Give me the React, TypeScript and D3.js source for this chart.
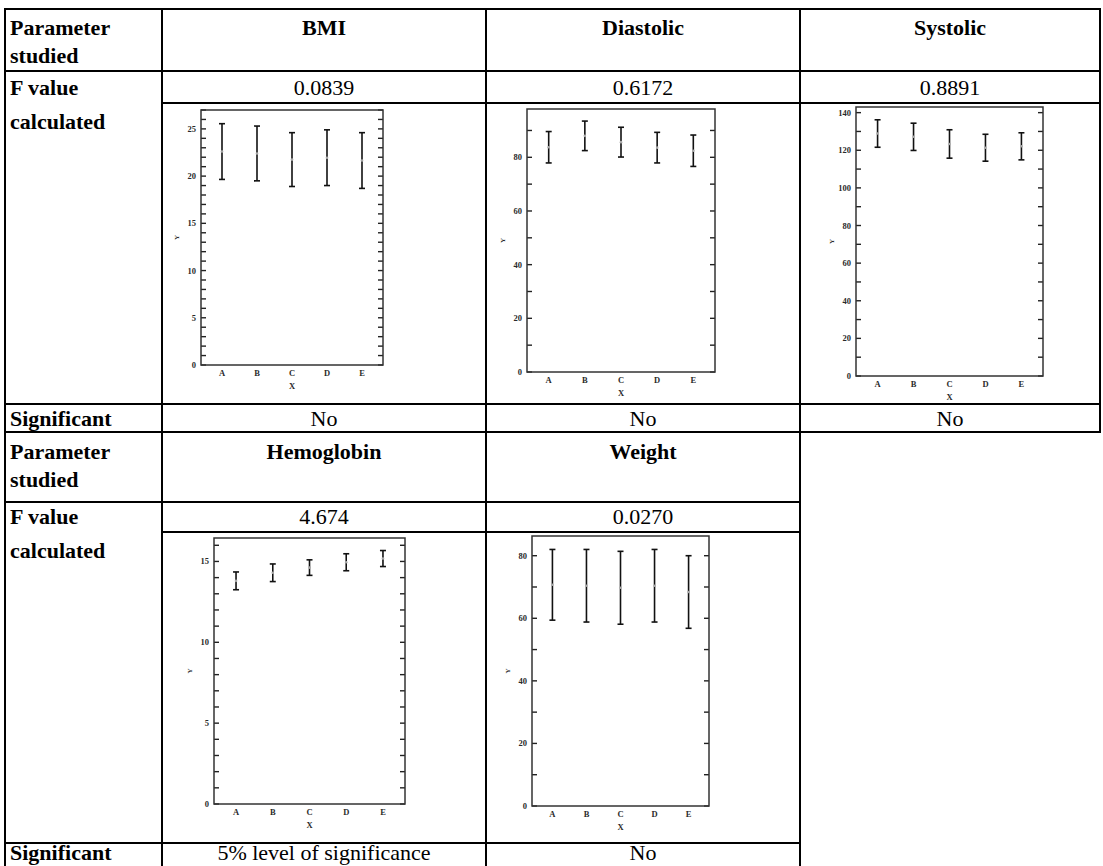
import * as d3 from 'd3';
import React, { useEffect, useRef } from 'react';

// groups on the x axis of every panel
const groups = ['A', 'B', 'C', 'D', 'E'];

// table contents
const parameters = ['BMI', 'Diastolic', 'Systolic', 'Hemoglobin', 'Weight'];
const fValues = ['0.0839', '0.6172', '0.8891', '4.674', '0.0270'];
const significance = ['No', 'No', 'No', '5% level of significance', 'No'];

// mean and spread
const bmiMean = [22.6, 22.4, 21.75, 21.95, 21.65];
const bmiSd = [2.95, 2.9, 2.85, 2.95, 2.95];
const diastolicMean = [83.75, 88.0, 85.65, 83.6, 82.45];
const diastolicSd = [5.85, 5.5, 5.55, 5.7, 5.85];
const systolicMean = [128.9, 127.15, 123.35, 121.35, 122.1];
const systolicSd = [7.3, 7.25, 7.55, 7.15, 7.2];
const hemoglobinMean = [13.8, 14.3, 14.62, 14.95, 15.18];
const hemoglobinSd = [0.55, 0.545, 0.48, 0.525, 0.495];
const weightMean = [70.7, 70.4, 69.75, 70.4, 68.4];
const weightSd = [11.3, 11.6, 11.65, 11.6, 11.6];

// y axis extents and tick steps for each panel
const yMax = [27, 98, 143, 16.45, 86.3];
const majorStep = [5, 20, 20, 5, 20];
const minorStep = [1, 10, 10, 1, 10];

const means = [bmiMean, diastolicMean, systolicMean, hemoglobinMean, weightMean];
const sds = [bmiSd, diastolicSd, systolicSd, hemoglobinSd, weightSd];

// plot frames on the page
const frames = [
  { x0: 201, x1: 383, y0: 110, y1: 365 },
  { x0: 527, x1: 715, y0: 109, y1: 372 },
  { x0: 856, x1: 1043, y0: 107, y1: 376 },
  { x0: 214, x1: 405, y0: 538, y1: 804 },
  { x0: 532, x1: 709, y0: 536, y1: 806 },
];

const SERIF = "'Liberation Serif', 'Times New Roman', 'DejaVu Serif', serif";
const FS = 22;

const drawPanel = (svg, i) => {
  const f = frames[i];
  // slight opacity keeps the tiny labels in plain grey antialiasing
  const g = svg.append('g').attr('opacity', 0.995);
  const x = d3.scalePoint().domain(groups).range([f.x0, f.x1]).padding(0.6);
  const y = d3.scaleLinear().domain([0, yMax[i]]).range([f.y1, f.y0]);

  // inward ticks on the left and right edges
  const ticks = d3.range(0, yMax[i] + 1e-6, minorStep[i]);
  [[f.x0, 1], [f.x1, -1]].forEach(([xe, dir]) => {
    g.selectAll(null)
      .data(ticks)
      .join('line')
      .attr('x1', xe)
      .attr('x2', xe + dir * 5)
      .attr('y1', (d) => y(d))
      .attr('y2', (d) => y(d))
      .attr('stroke', '#222')
      .attr('stroke-width', 1.4);
  });

  g.append('rect')
    .attr('x', f.x0)
    .attr('y', f.y0)
    .attr('width', f.x1 - f.x0)
    .attr('height', f.y1 - f.y0)
    .attr('fill', 'none')
    .attr('stroke', '#333')
    .attr('stroke-width', 1.5);

  const small = (sel, size = 8.5) =>
    sel.attr('font-family', SERIF)
      .attr('font-weight', 'bold')
      .attr('font-size', size)
      .attr('fill', '#2a2a2a');

  // tick labels
  const major = d3.range(0, yMax[i] + 1e-6, majorStep[i]);
  small(g.selectAll(null)
    .data(major)
    .join('text')
    .attr('x', f.x0 - 5)
    .attr('y', (d) => y(d) + 3)
    .attr('text-anchor', 'end'))
    .text((d) => d);

  small(g.selectAll(null)
    .data(groups)
    .join('text')
    .attr('x', (d) => x(d))
    .attr('y', f.y1 + 11)
    .attr('text-anchor', 'middle'))
    .text((d) => d);

  small(g.append('text')
    .attr('x', (f.x0 + f.x1) / 2)
    .attr('y', f.y1 + 24)
    .attr('text-anchor', 'middle'))
    .text('X');

  small(g.append('text')
    .attr('transform', `translate(${f.x0 - 22}, ${(f.y0 + f.y1) / 2}) rotate(-90)`)
    .attr('text-anchor', 'middle'), 7)
    .text('Y');

  // error bars: whisker, caps and a faint mean mark
  const rows = groups.map((k, j) => ({ k, m: means[i][j], s: sds[i][j] }));
  g.selectAll(null)
    .data(rows)
    .join('line')
    .attr('x1', (d) => x(d.k))
    .attr('x2', (d) => x(d.k))
    .attr('y1', (d) => y(d.m - d.s))
    .attr('y2', (d) => y(d.m + d.s))
    .attr('stroke', '#111')
    .attr('stroke-width', 1.6);
  [-1, 1].forEach((side) => {
    g.selectAll(null)
      .data(rows)
      .join('line')
      .attr('x1', (d) => x(d.k) - 3)
      .attr('x2', (d) => x(d.k) + 3)
      .attr('y1', (d) => y(d.m + side * d.s))
      .attr('y2', (d) => y(d.m + side * d.s))
      .attr('stroke', '#111')
      .attr('stroke-width', 1.6);
  });
  g.selectAll(null)
    .data(rows)
    .join('circle')
    .attr('cx', (d) => x(d.k))
    .attr('cy', (d) => y(d.m))
    .attr('r', 1.3)
    .attr('fill', '#aaa');
};

const App = () => {
  const ref = useRef(null);

  useEffect(() => {
    const svg = d3.select(ref.current);
    svg.selectAll('*').remove();
    svg.append('rect').attr('width', 1103).attr('height', 866).attr('fill', '#fff');

    const line = (x1, y1, x2, y2) =>
      svg.append('line')
        .attr('x1', x1).attr('y1', y1).attr('x2', x2).attr('y2', y2)
        .attr('stroke', '#000').attr('stroke-width', 2);
    const text = (t, x, y, bold, anchor = 'middle') =>
      svg.append('text')
        .attr('x', x).attr('y', y)
        .attr('text-anchor', anchor)
        .attr('font-family', SERIF)
        .attr('font-size', FS)
        .attr('font-weight', bold ? 'bold' : 'normal')
        .attr('fill', '#000')
        .text(t);

    const cols = [5, 162, 486, 800, 1100];
    const blocks = [
      { top: 9, head: 71, f: 103, chart: 404, bottom: 432, ncol: 3, first: 0, lead: 26, fBase: 24, sigBase: 22 },
      { top: 432, head: 502, f: 532, chart: 843, bottom: 870, ncol: 2, first: 3, lead: 27, fBase: 22, sigBase: 17 },
    ];

    blocks.forEach((b) => {
      const right = cols[b.ncol + 1];
      [b.top, b.head, b.chart, b.bottom].forEach((yy) => line(cols[0] - 1, yy, right + 1, yy));
      line(cols[1], b.f, right + 1, b.f);
      cols.slice(0, b.ncol + 2).forEach((xx) => line(xx, b.top, xx, b.bottom));

      const lx = 10;
      text('Parameter', lx, b.top + b.lead, true, 'start');
      text('studied', lx, b.top + b.lead + 28, true, 'start');
      text('F value', lx, b.head + b.fBase, true, 'start');
      text('calculated', lx, b.head + b.fBase + 34, true, 'start');
      text('Significant', lx, b.chart + b.sigBase, true, 'start');

      for (let c = 0; c < b.ncol; c++) {
        const k = b.first + c;
        const cx = (cols[c + 1] + cols[c + 2]) / 2;
        text(parameters[k], cx, b.top + b.lead, true);
        text(fValues[k], cx, b.head + b.fBase, false);
        text(significance[k], cx, b.chart + b.sigBase, false);
        drawPanel(svg, k);
      }
    });
  }, []);

  return (
    <svg
      ref={ref}
      width={1103}
      height={866}
      style={{ position: 'absolute', left: 0, top: 0 }}
    />
  );
};

export default App;
